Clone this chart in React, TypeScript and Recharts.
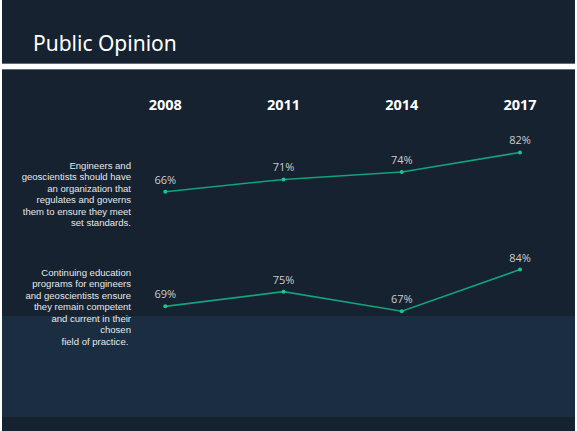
import { LineChart, Line, XAxis, YAxis, LabelList } from 'recharts';

const years = ['2008', '2011', '2014', '2017'];
const regulationSupport = [66, 71, 74, 82];
const educationSupport = [69, 75, 67, 84];

const regulationText = [
  'Engineers and',
  'geoscientists should have',
  'an organization that',
  'regulates and governs',
  'them to ensure they meet',
  'set standards.',
];
const educationText = [
  'Continuing education',
  'programs for engineers',
  'and geoscientists ensure',
  'they remain competent',
  'and current in their',
  'chosen',
  'field of practice. ',
];

const regulationData = years.map((year, i) => ({ year, value: regulationSupport[i] }));
const educationData = years.map((year, i) => ({ year, value: educationSupport[i] }));

const BG = '#16222f';
const BAND = '#1b2e41';
const LINE = '#14a27d';
const DOT = '#1fc391';

const labelStyle = { fill: '#c9cdd2', fontSize: 11, fontFamily: '"Open Sans", sans-serif' };

function StatementText({ lines, top }: { lines: string[]; top: number }) {
  return (
    <div
      style={{
        position: 'absolute',
        left: 0,
        top,
        width: 131,
        textAlign: 'right',
        whiteSpace: 'pre',
        color: '#e6e8eb',
        fontFamily: '"Liberation Sans", Arial, sans-serif',
        fontSize: 9.55,
        lineHeight: '11.5px',
      }}
    >
      {lines.join('\n')}
    </div>
  );
}

export default function App() {
  return (
    <div style={{ position: 'fixed', left: 0, top: 0, width: 577, height: 431, background: '#ffffff', overflow: 'hidden' }}>
      <div style={{ position: 'absolute', left: 2, top: 0, width: 573, height: 431, background: BG }} />
      <div style={{ position: 'absolute', left: 2, top: 316, width: 573, height: 101, background: BAND }} />
      <div
        style={{
          position: 'absolute',
          left: 33,
          top: 28,
          color: '#ffffff',
          fontFamily: '"Noto Sans", sans-serif',
          fontSize: 21,
          lineHeight: '30px',
        }}
      >
        Public Opinion
      </div>
      <div style={{ position: 'absolute', left: 2, top: 63, width: 573, height: 1, background: '#5d6b78' }} />
      <div style={{ position: 'absolute', left: 2, top: 64, width: 573, height: 5, background: '#ffffff' }} />
      <div style={{ position: 'absolute', left: 2, top: 69, width: 573, height: 1, background: '#5d6b78' }} />

      <StatementText lines={regulationText} top={159.5} />
      <StatementText lines={educationText} top={266.5} />

      <div style={{ position: 'absolute', left: 0, top: 0 }}>
        <LineChart width={577} height={231} data={regulationData} margin={{ top: 90.5, right: 57, bottom: 0, left: 165.3 }}>
          <XAxis
            dataKey="year"
            orientation="top"
            height={30}
            axisLine={false}
            tickLine={false}
            tickSize={0}
            tickMargin={10.5}
            tick={{ fill: '#ffffff', fontSize: 14.5, fontWeight: 700, fontFamily: '"Open Sans", sans-serif' }}
          />
          <YAxis hide domain={[50, 95]} />
          <Line
            dataKey="value"
            stroke={LINE}
            strokeWidth={1.6}
            dot={{ r: 2, fill: DOT, stroke: DOT, strokeWidth: 0 }}
            isAnimationActive={false}
          >
            <LabelList dataKey="value" position="top" offset={8} formatter={(v: number) => `${v}%`} style={labelStyle} />
          </Line>
        </LineChart>
      </div>

      <div style={{ position: 'absolute', left: 0, top: 0 }}>
        <LineChart width={577} height={353} data={educationData} margin={{ top: 230.3, right: 57, bottom: 0, left: 165.3 }}>
          <XAxis dataKey="year" hide />
          <YAxis hide domain={[50, 100]} />
          <Line
            dataKey="value"
            stroke={LINE}
            strokeWidth={1.6}
            dot={{ r: 2, fill: DOT, stroke: DOT, strokeWidth: 0 }}
            isAnimationActive={false}
          >
            <LabelList dataKey="value" position="top" offset={8} formatter={(v: number) => `${v}%`} style={labelStyle} />
          </Line>
        </LineChart>
      </div>
    </div>
  );
}
